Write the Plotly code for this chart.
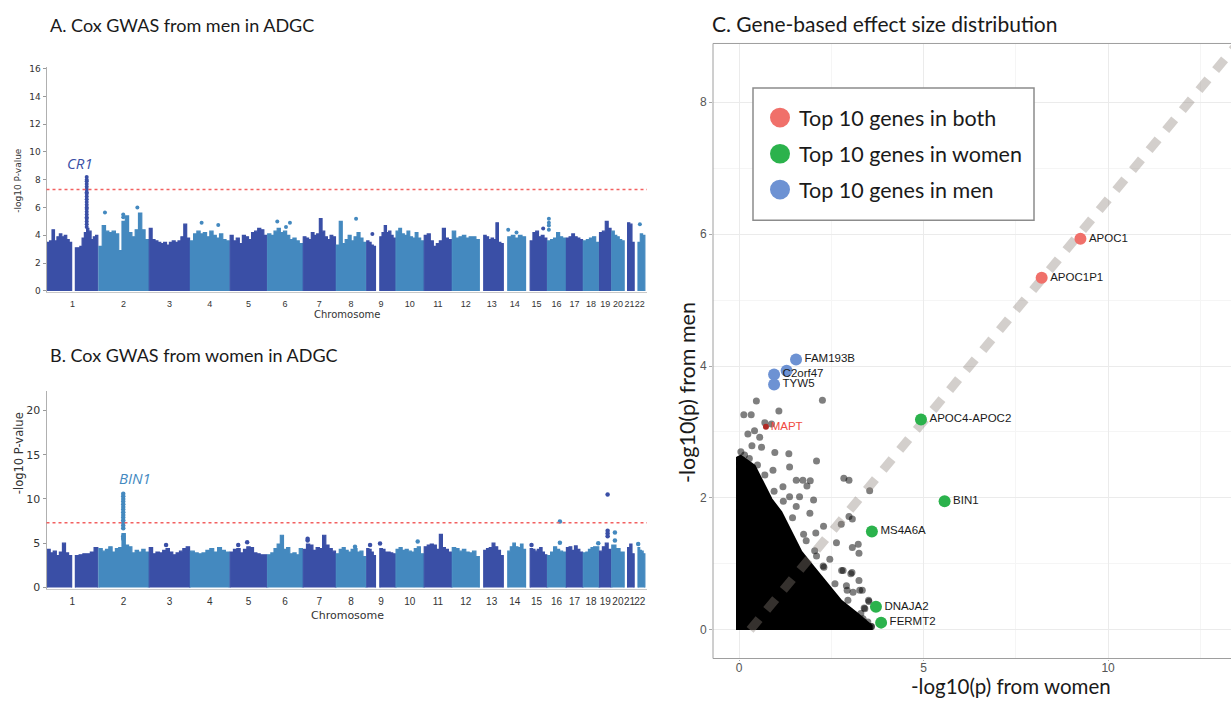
import numpy as np
import plotly.graph_objects as go

W, H = 1231, 704


def xd(px):
    return px / W


def yd(py):
    return 1 - py / H


# ---------------- Manhattan data (A: men, B: women) ----------------
CHR_NAMES = [str(i) for i in range(1, 23)]
CHR_LEN = [249.3, 243.2, 198.0, 191.2, 180.9, 171.1, 159.1, 146.4, 141.2, 135.5, 135.0,
           133.9, 115.2, 107.3, 102.5, 90.4, 81.2, 78.1, 59.1, 63.0, 48.1, 51.3]
DATA_START = [3, 3, 2, 2, 2, 2, 2, 2, 2, 2, 2, 2, 19.5, 20, 20.5, 2, 2, 2, 2, 2, 15, 17]
DATA_END = [247, 241, 196, 189, 179, 169, 157, 144.5, 139.5, 133.5, 133, 132, 113.5,
            105.5, 100.5, 88.5, 79.5, 76.5, 57.5, 61.5, 46.5, 50]
GAP_CHR = [1, 9]
GAP_FROM = [121, 44]
GAP_TO = [139, 65]

# upper envelope of the dense SNP band, read left to right along each chromosome
MEN_TOPS = [
    [3.5, 3.6, 4.4, 3.6, 3.9, 4.1, 3.9, 4.0, 3.7, 3.5, None, 3.1, 3.1, 3.2, 3.8, 4.2, 4.5, 4.3, 3.7, 3.9, 4.0],
    [3.2, 4.7, 4.3, 4.2, 4.3, 4.1, 2.9, 5.0, 5.4, 4.2, 3.9, 4.4, 5.6, 4.4, 3.7],
    [4.5, 3.7, 3.6, 3.5, 3.4, 3.5, 3.3, 3.5, 3.6, 3.5, 3.6, 3.9, 4.8, 3.8],
    [3.6, 4.1, 4.3, 4.1, 4.2, 3.9, 4.3, 4.0, 3.8, 4.1, 3.7, 3.6],
    [4.0, 3.6, 3.8, 3.4, 4.0, 3.9, 3.7, 4.2, 4.3, 4.5, 4.4, 4.0],
    [4.1, 4.0, 4.3, 4.5, 4.2, 4.3, 4.0, 3.7, 3.8, 3.6, 3.4],
    [3.9, 3.8, 3.7, 4.2, 4.0, 4.1, 5.2, 4.3, 3.9, 3.7, 4.0, 3.9],
    [3.3, 5.0, 3.4, 3.7, 4.0, 3.6, 3.9, 4.2, 3.8, 3.5],
    [3.6, 3.5, 3.3, 3.2, None, 3.9, 4.2, 4.7, 4.2, 4.3, 4.0, 3.8],
    [4.3, 4.5, 4.1, 4.0, 4.3, 3.9, 3.8, 4.2, 3.8, 3.6],
    [4.0, 4.1, 3.6, 3.2, 3.4, 3.6, 4.5, 3.8, 3.7],
    [4.3, 3.8, 3.9, 4.0, 3.8, 3.9, 3.9, 3.7],
    [4.0, 3.9, 3.7, 3.8, 3.7, 4.9, 3.5, 3.4],
    [3.9, 4.0, 3.8, 4.0, 3.9],
    [3.6, 4.2, 4.3, 3.9, 4.0, 3.8],
    [3.6, 3.7, 3.8, 4.2, 3.9, 3.8],
    [3.8, 3.9, 4.1, 3.9, 3.8, 3.7],
    [3.6, 3.7, 3.8, 3.9, 3.5],
    [4.2, 4.3, 5.0, 4.5],
    [4.3, 4.0, 3.9, 3.7, 3.6],
    [4.9, 4.8, 3.5],
    [3.5, 4.1, 4.0],
]
WOMEN_TOPS = [
    [4.3, 3.9, 4.1, 3.6, 4.0, 5.0, 3.9, 3.6, None, 3.6, 3.7, 3.8, 3.8, 4.0, 4.5],
    [4.4, 4.1, 4.3, 4.6, 4.0, 4.4, 4.5, 6.1, 4.8, 4.6, 3.9, 4.2, 4.0, 4.3, 4.0],
    [4.5, 3.8, 4.0, 3.9, 4.2, 4.4, 4.0, 3.7, 3.9, 4.1, 4.4, 4.6],
    [4.1, 3.9, 3.8, 3.9, 4.2, 4.4, 4.0, 4.5, 4.2, 4.0],
    [4.0, 4.3, 4.4, 3.9, 4.3, 4.6, 4.5, 3.9, 3.8, 3.7, 3.7],
    [3.7, 3.9, 4.4, 4.9, 5.9, 4.3, 4.5, 3.8, 3.9, 3.7, 4.4],
    [4.3, 4.9, 4.8, 4.2, 4.5, 4.4, 5.9, 4.8, 4.4, 4.1],
    [3.8, 4.3, 4.5, 4.2, 4.0, 4.3, 4.4, 4.0, 4.1, 3.5],
    [4.4, 4.3, 4.0, 3.6, None, 4.4, 4.3, 4.0, 4.0, 3.9, 3.8],
    [4.3, 4.5, 4.2, 4.3, 4.1, 4.0, 4.4, 4.6, 3.8],
    [4.6, 4.8, 4.9, 4.8, 4.3, 6.0, 4.5, 4.3, 4.0],
    [4.5, 4.4, 4.1, 4.3, 4.0, 3.9, 4.1, 3.5],
    [4.2, 4.4, 4.5, 5.0, 4.6, 4.2, 3.6],
    [4.1, 4.6, 5.0, 4.6, 4.5, 4.9, 4.3],
    [4.4, 4.3, 4.1, 4.3, 4.5, 4.0, 3.7],
    [3.6, 4.0, 4.6, 4.3, 4.1, 4.0],
    [4.5, 4.6, 4.2, 4.7, 4.3, 4.0],
    [3.9, 4.0, 4.3, 4.5, 4.6, 4.6],
    [4.1, 4.6, 5.0, 4.3],
    [4.8, 4.4, 4.0],
    [4.5, 4.9, 3.8],
    [4.5, 4.2, 4.1, 3.8],
]

# isolated SNPs above the band (chromosome, Mb within chromosome, -log10 P)
MEN_DOT_CHR = [1] * 21 + [2, 2, 2, 2, 4, 4, 6, 6, 6, 8, 9, 14, 14, 15, 16, 16, 16, 16, 22]
MEN_DOT_POS = [193.5] * 21 + [32, 120, 120, 188, 56, 136, 48, 90, 109, 97, 29, 22, 62, 83, 8, 8, 8, 8, 26]
MEN_DOT_Y = [4.6, 4.8, 5.0, 5.2, 5.3, 5.5, 5.7, 5.9, 6.0, 6.2, 6.4, 6.6, 6.8, 7.0, 7.1,
             7.3, 7.5, 7.7, 7.9, 8.0, 8.2,
             5.65, 5.5, 5.3, 6.0, 4.9, 4.75, 5.0, 4.6, 4.9, 5.2, 4.1, 4.4, 4.2, 4.5,
             4.4, 4.7, 4.9, 5.2, 4.8]

WOMEN_DOT_CHR = [2] * 16 + [3, 5, 5, 7, 7, 8, 9, 9, 10, 15, 16, 16, 18, 19, 19, 19, 19, 20, 20, 22]
WOMEN_DOT_POS = [120] * 16 + [83, 41, 84, 23, 23, 92, 18, 66, 106, 27, 61, 61, 74, 41, 41, 41, 41, 17, 17, 18]
WOMEN_DOT_Y = [5.5, 6.7, 7.0, 7.3, 7.6, 7.9, 8.2, 8.5, 8.8, 9.1, 9.4, 9.7, 10.0, 10.3, 10.6, 5.8,
               4.8, 4.8, 5.1, 5.3, 5.5, 4.6, 4.8, 4.97, 5.2, 4.8, 7.45, 5.05, 5.0, 10.5,
               5.8, 6.1, 6.4, 6.2, 5.3, 4.9]

GWS = 7.3
LEAD_A = ("CR1", 163, 9.2)
LEAD_B = ("BIN1", 424, 12.4)

# ---------------- Panel C data ----------------
# solid core of overlapping genes (outline of the black mass)
DENSE_X = [0, 0, 0.38, 0.6, 0.83, 1.1, 1.37, 1.64, 2.0, 2.37, 2.73, 3.18, 3.54, 3.54]
DENSE_Y = [0, 2.62, 2.47, 2.22, 1.97, 1.77, 1.47, 1.17, 0.92, 0.67, 0.42, 0.22, 0.05, 0]
# individual genes visible around the mass
GENE_X = [0.47, 0.13, 0.33, 1.08, 2.26, 0.70, 0.88, 0.42, 0.24, 0.56, 0.35, 0.97, 1.35, 0.61,
          2.10, 1.37, 0.92, 1.73, 1.55, 1.93, 2.84, 2.98, 3.54, 1.84, 1.19, 1.64, 2.02, 1.37,
          1.55, 2.29, 2.08, 2.77, 2.98, 3.07, 3.07, 3.23, 3.25, 2.82, 3.03, 3.27, 3.52, 3.41,
          1.82, 2.64, 2.46, 2.28, 2.91, 3.09, 1.92, 1.01, 2.10, 3.36, 3.59, 2.78, 3.06, 3.25,
          2.93, 3.34, 3.51, 3.39, 3.25, 3.49, 3.58,
          0.05, 0.15, 0.28, 0.50, 0.70, 0.95, 1.20, 1.45, 1.75, 2.05, 2.30, 2.60, 2.95, 3.30]
GENE_Y = [3.47, 3.26, 3.26, 3.32, 3.48, 3.14, 3.12, 3.02, 2.97, 2.92, 2.79, 2.69, 2.67, 2.77,
          2.56, 2.47, 2.42, 2.27, 2.27, 2.26, 2.30, 2.27, 2.11, 2.18, 2.17, 2.02, 1.97, 2.02,
          1.87, 1.57, 1.47, 1.60, 1.72, 1.68, 1.25, 1.30, 1.16, 0.90, 0.85, 0.60, 0.43, 0.32,
          1.35, 1.32, 1.07, 0.97, 0.67, 0.57, 1.77, 1.62, 1.12, 0.17, 0.05, 0.90, 0.87, 0.75,
          0.60, 0.60, 0.45, 0.33, 0.15, 0.12, 0.05,
          2.70, 2.65, 2.60, 2.50, 2.35, 2.10, 1.95, 1.70, 1.45, 1.20, 0.95, 0.70, 0.45, 0.25]

BOTH_NAMES = ["APOC1", "APOC1P1"]
BOTH_X = [9.25, 8.20]
BOTH_Y = [5.93, 5.34]
WOMEN_NAMES = ["APOC4-APOC2", "BIN1", "MS4A6A", "DNAJA2", "FERMT2"]
WOMEN_X = [4.93, 5.57, 3.60, 3.71, 3.85]
WOMEN_Y = [3.19, 1.95, 1.49, 0.35, 0.11]
MEN_NAMES = ["FAM193B", "", "C2orf47", "TYW5"]
MEN_X = [1.545, 1.29, 0.95, 0.95]
MEN_Y = [4.10, 3.93, 3.87, 3.72]
MAPT = ("MAPT", 0.73, 3.08)
DIAG_X = [0.3, 13.5]
DIAG_Y = [0.0, 8.88]

LEGEND_LABELS = ["Top 10 genes in both", "Top 10 genes in women", "Top 10 genes in men"]

# ---------------- styles ----------------
DARK = "#3a4fa6"
LIGHT = "#4489bf"
RED = "#f0706a"
GREEN = "#2bb24c"
BLUE = "#6d92d3"
TITLE_FONT = dict(family="Lato", size=18, color="#1a1a1a")

offsets = np.concatenate([[0.0], np.cumsum(CHR_LEN)[:-1]])
centers = offsets + np.array(CHR_LEN) / 2

fig = go.Figure()


def add_manhattan(tops_all, dchr, dpos, dy, xa, ya, msize):
    for i, tops in enumerate(tops_all):
        chrom = i + 1
        segs, cur = [], []
        for v in tops:
            if v is None:
                segs.append(cur)
                cur = []
            else:
                cur.append(v)
        segs.append(cur)
        if chrom in GAP_CHR:
            g = GAP_CHR.index(chrom)
            bounds = [(DATA_START[i], GAP_FROM[g]), (GAP_TO[g], DATA_END[i])]
        else:
            bounds = [(DATA_START[i], DATA_END[i])]
        xs, ys = [], []
        for (a, b), seg in zip(bounds, segs):
            pos = offsets[i] + np.linspace(a, b, len(seg) + 1)
            xs += [pos[0]]
            ys += [0]
            for k, h in enumerate(seg):
                xs += [pos[k], pos[k + 1]]
                ys += [h, h]
            xs += [pos[-1], None]
            ys += [0, None]
        color = DARK if i % 2 == 0 else LIGHT
        fig.add_trace(go.Scatter(x=xs, y=ys, mode="lines", fill="toself", fillcolor=color,
                                 line=dict(color=color, width=1.2), xaxis=xa, yaxis=ya,
                                 hoverinfo="skip", showlegend=False))
    cx = [offsets[c - 1] + p for c, p in zip(dchr, dpos)]
    cols = [DARK if (c - 1) % 2 == 0 else LIGHT for c in dchr]
    fig.add_trace(go.Scatter(x=cx, y=dy, mode="markers",
                             marker=dict(size=msize, color=cols, line=dict(width=0)),
                             xaxis=xa, yaxis=ya, hoverinfo="skip", showlegend=False))


add_manhattan(MEN_TOPS, MEN_DOT_CHR, MEN_DOT_POS, MEN_DOT_Y, "x", "y", 4)
add_manhattan(WOMEN_TOPS, WOMEN_DOT_CHR, WOMEN_DOT_POS, WOMEN_DOT_Y, "x2", "y2", 4.5)

# ---------------- Panel C traces ----------------
fig.add_trace(go.Scatter(x=DENSE_X, y=DENSE_Y, mode="lines", fill="toself", fillcolor="black",
                         line=dict(color="black", width=6), xaxis="x3", yaxis="y3",
                         hoverinfo="skip", showlegend=False))
fig.add_trace(go.Scatter(x=GENE_X, y=GENE_Y, mode="markers",
                         marker=dict(size=7, color="black", opacity=0.5, line=dict(width=0)),
                         xaxis="x3", yaxis="y3", showlegend=False))
fig.add_trace(go.Scatter(x=[MAPT[1]], y=[MAPT[2]], mode="markers+text", text=[MAPT[0]],
                         textposition="middle right",
                         textfont=dict(family="Liberation Sans", size=11.5, color="#f04a42"),
                         marker=dict(size=6, color="#b02a25"), xaxis="x3", yaxis="y3",
                         showlegend=False))
fig.add_trace(go.Scatter(x=DIAG_X, y=DIAG_Y, mode="lines",
                         line=dict(color="rgba(140,130,120,0.38)", width=9, dash="14px,12px"),
                         xaxis="x3", yaxis="y3", hoverinfo="skip", showlegend=False))
for names, xs, ys, col in [(BOTH_NAMES, BOTH_X, BOTH_Y, RED),
                           (WOMEN_NAMES, WOMEN_X, WOMEN_Y, GREEN),
                           (MEN_NAMES, MEN_X, MEN_Y, BLUE)]:
    fig.add_trace(go.Scatter(x=xs, y=ys, mode="markers+text", text=names,
                             textposition="middle right",
                             textfont=dict(family="Liberation Sans", size=11.5, color="#1a1a1a"),
                             marker=dict(size=12, color=col, line=dict(width=0)),
                             xaxis="x3", yaxis="y3", showlegend=False))

# ---------------- layout ----------------
man_x = dict(range=[0, 2890], tickvals=list(centers), ticktext=CHR_NAMES, tickangle=0,
             showline=True, linecolor="#c8c8c8", linewidth=1, ticks="outside", ticklen=3,
             tickcolor="rgba(0,0,0,0)", showgrid=False, zeroline=False, fixedrange=True)
man_y = dict(showline=True, linecolor="#b0b0b0", linewidth=1, ticks="outside", ticklen=3,
             tickcolor="#999999", showgrid=False, zeroline=False)

fig.update_layout(
    width=W, height=H, margin=dict(l=0, r=0, t=0, b=0),
    paper_bgcolor="white", plot_bgcolor="white", showlegend=False,
    xaxis=dict(man_x, domain=[xd(46.5), xd(647)], anchor="y",
               tickfont=dict(family="Liberation Sans", size=9, color="#333")),
    yaxis=dict(man_y, domain=[yd(292.5), yd(65)], range=[-0.06, 16.1], anchor="x",
               tickvals=list(range(0, 17, 2)),
               tickfont=dict(family="DejaVu Sans", size=9, color="#333")),
    xaxis2=dict(man_x, domain=[xd(46.5), xd(647)], anchor="y2",
                tickfont=dict(family="Liberation Sans", size=10, color="#333")),
    yaxis2=dict(man_y, domain=[yd(593.3), yd(393)], range=[-0.14, 22.2], anchor="x2",
                tickvals=[0, 5, 10, 15, 20],
                tickfont=dict(family="DejaVu Sans", size=11, color="#333")),
    xaxis3=dict(domain=[xd(713), 1.0], range=[-0.705, 13.33], anchor="y3",
                tickvals=[0, 5, 10], ticks="outside", ticklen=1, tickcolor="#aaaaaa",
                ticklabelstandoff=-3,
                tickfont=dict(family="Liberation Sans", size=12, color="#555"),
                showgrid=True, gridcolor="#ebebeb", gridwidth=1, zeroline=False,
                showline=False,
                minor=dict(tickvals=[2.5, 7.5, 12.5], showgrid=True, gridcolor="#f5f5f5",
                           ticks="")),
    yaxis3=dict(domain=[yd(664), yd(41)], range=[-0.434, 8.89], anchor="x3",
                tickvals=[0, 2, 4, 6, 8], ticks="outside", ticklen=3, tickcolor="#aaaaaa",
                tickfont=dict(family="Liberation Sans", size=12, color="#555"),
                showgrid=True, gridcolor="#ebebeb", gridwidth=1, zeroline=False,
                showline=False,
                minor=dict(tickvals=[1, 3, 5, 7], showgrid=True, gridcolor="#f5f5f5",
                           ticks="")),
)

shapes = [
    dict(type="line", xref="x domain", yref="y", x0=0, x1=1, y0=GWS, y1=GWS,
         line=dict(color="#f26060", width=1.5, dash="dot")),
    dict(type="line", xref="x2 domain", yref="y2", x0=0, x1=1, y0=GWS, y1=GWS,
         line=dict(color="#f26060", width=1.5, dash="dot")),
    # panel C border (right edge lies beyond the page)
    dict(type="rect", xref="paper", yref="paper", x0=xd(713), x1=1.05, y0=yd(664), y1=yd(41),
         line=dict(color="#9e9e9e", width=1), layer="above"),
    # legend box
    dict(type="rect", xref="paper", yref="paper", x0=xd(753), x1=xd(1034), y0=yd(220),
         y1=yd(86), line=dict(color="#8c8c8c", width=1.5), fillcolor="white", layer="above"),
]
legend_y = [116, 152.7, 189]
for yc, col in zip(legend_y, [RED, GREEN, BLUE]):
    shapes.append(dict(type="circle", xref="paper", yref="paper", x0=xd(770), x1=xd(790),
                       y0=yd(yc + 10), y1=yd(yc - 10), fillcolor=col, line=dict(width=0),
                       layer="above"))
fig.update_layout(shapes=shapes)

ann = [
    dict(text="A. Cox GWAS from men in ADGC", x=xd(48), y=yd(22), xanchor="left",
         yanchor="middle", font=TITLE_FONT),
    dict(text="B. Cox GWAS from women in ADGC", x=xd(48), y=yd(357), xanchor="left",
         yanchor="middle", font=TITLE_FONT),
    dict(text="C. Gene-based effect size distribution", x=xd(710), y=yd(21), xanchor="left",
         yanchor="middle", font=dict(family="Lato", size=21, color="#1a1a1a")),
    dict(text="-log10 P-value", x=xd(18), y=yd(180), textangle=-90, xanchor="center",
         yanchor="middle", font=dict(family="DejaVu Sans", size=9, color="#333")),
    dict(text="-log10 P-value", x=xd(19), y=yd(456), textangle=-90, xanchor="center",
         yanchor="middle", font=dict(family="DejaVu Sans", size=11.5, color="#333")),
    dict(text="Chromosome", x=xd(347), y=yd(316), xanchor="center", yanchor="middle",
         font=dict(family="DejaVu Sans", size=10, color="#333")),
    dict(text="Chromosome", x=xd(347), y=yd(620), xanchor="center", yanchor="middle",
         font=dict(family="DejaVu Sans", size=11, color="#333")),
    dict(text="-log10(p) from women", x=xd(1011), y=yd(692), xanchor="center",
         yanchor="middle", font=dict(family="Lato", size=20.5, color="#1a1a1a")),
    dict(text="-log10(p) from men", x=xd(687), y=yd(395), textangle=-90, xanchor="center",
         yanchor="middle", font=dict(family="Lato", size=21.5, color="#1a1a1a")),
]
for lab, yc in zip(LEGEND_LABELS, legend_y):
    ann.append(dict(text=lab, x=xd(797), y=yd(yc), xanchor="left", yanchor="middle",
                    font=dict(family="Lato", size=21.5, color="#1a1a1a")))
for a in ann:
    a.update(xref="paper", yref="paper", showarrow=False)

ann.append(dict(text="<i>" + LEAD_A[0] + "</i>", x=LEAD_A[1], y=LEAD_A[2], xref="x", yref="y",
                showarrow=False, font=dict(family="Open Sans", size=15, color=DARK)))
ann.append(dict(text="<i>" + LEAD_B[0] + "</i>", x=LEAD_B[1], y=LEAD_B[2], xref="x2",
                yref="y2", showarrow=False, font=dict(family="Open Sans", size=15, color=LIGHT)))
fig.update_layout(annotations=ann)

# remove the page's default 8px body margin so the figure sits at the window origin
fig.write_html("out.html", config={"displayModeBar": False},
               post_script="document.body.style.margin='0';document.body.style.overflow='hidden';")
